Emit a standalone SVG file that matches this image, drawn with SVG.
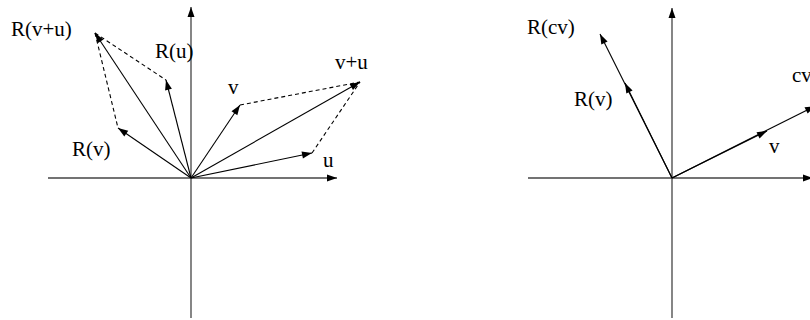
<svg xmlns="http://www.w3.org/2000/svg" width="810" height="320" viewBox="0 0 810 320">
  <defs>
    <marker id="ah" markerUnits="userSpaceOnUse" markerWidth="11" markerHeight="7" refX="10" refY="3.5" orient="auto" overflow="visible">
      <path d="M0,0 L10,3.5 L0,7 Z" fill="#000"/>
    </marker>
    <style>
      .axis { stroke: #444; stroke-width: 1.3; fill: none; marker-end: url(#ah); }
      .vec { stroke: #000; stroke-width: 1.1; fill: none; marker-end: url(#ah); }
      .dash { stroke: #000; stroke-width: 1.1; fill: none; stroke-dasharray: 4 3; }
      .lbl { font-family: 'Liberation Serif', 'DejaVu Serif', serif; font-size: 21px; fill: #000; }
    </style>
  </defs>

  <g id="left-axes">
    <line class="axis" x1="48" y1="178" x2="337" y2="178"/>
    <line class="axis" x1="191" y1="318" x2="191" y2="7"/>
  </g>
  <g id="right-axes">
    <line class="axis" x1="528" y1="178" x2="813" y2="178"/>
    <line class="axis" x1="672" y1="318" x2="672" y2="8"/>
  </g>

  <g id="connectors">
    <line class="vec" x1="191" y1="178" x2="312" y2="153"/>
    <line class="vec" x1="191" y1="178" x2="240" y2="105"/>
    <line class="vec" x1="191" y1="178" x2="360" y2="82"/>
    <line class="vec" x1="191" y1="178" x2="166" y2="80"/>
    <line class="vec" x1="191" y1="178" x2="118" y2="128"/>
    <line class="vec" x1="191" y1="178" x2="95" y2="33"/>
    <line class="dash" x1="240" y1="105" x2="360" y2="82"/>
    <line class="dash" x1="312" y1="153" x2="360" y2="82"/>
    <line class="dash" x1="95" y1="33" x2="166" y2="80"/>
    <line class="dash" x1="95" y1="33" x2="118" y2="128"/>

    <line class="vec" x1="672" y1="178" x2="600" y2="34"/>
    <line class="vec" x1="672" y1="178" x2="625" y2="83"/>
    <line class="vec" x1="672" y1="178" x2="815" y2="106"/>
    <line class="vec" x1="672" y1="178" x2="767" y2="131"/>
  </g>

  <g id="labels">
    <g id="lbl-Rvu"><text class="lbl" x="11" y="36">R(v+u)</text></g>
    <g id="lbl-Ru"><text class="lbl" x="155" y="58">R(u)</text></g>
    <g id="lbl-vu"><text class="lbl" x="335" y="69">v+u</text></g>
    <g id="lbl-v"><text class="lbl" x="228" y="94">v</text></g>
    <g id="lbl-Rv"><text class="lbl" x="72" y="156">R(v)</text></g>
    <g id="lbl-u"><text class="lbl" x="323" y="167">u</text></g>
    <g id="lbl-Rcv"><text class="lbl" x="527" y="34">R(cv)</text></g>
    <g id="lbl-Rv2"><text class="lbl" x="574" y="106">R(v)</text></g>
    <g id="lbl-cv"><text class="lbl" x="792" y="82">cv</text></g>
    <g id="lbl-v2"><text class="lbl" x="769" y="153">v</text></g>
  </g>
</svg>
